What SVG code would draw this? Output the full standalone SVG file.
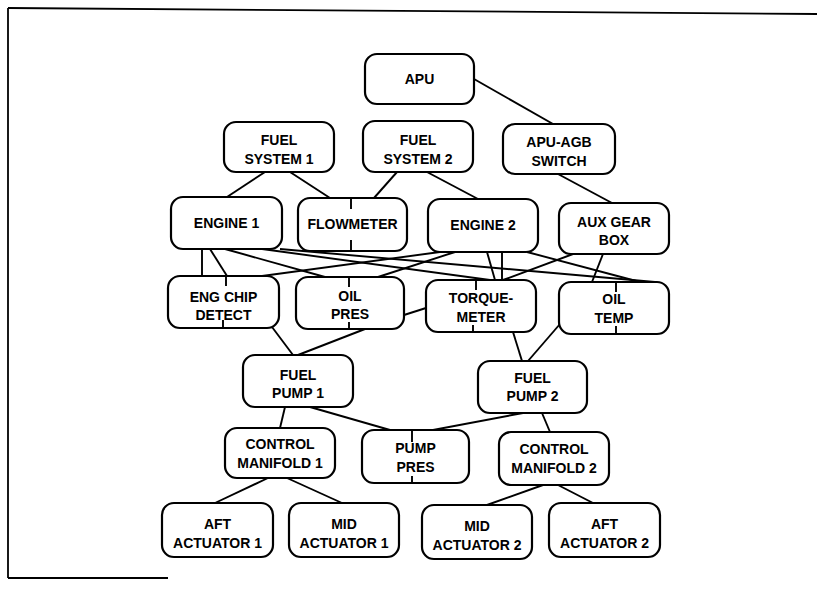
<svg xmlns="http://www.w3.org/2000/svg" width="817" height="591" viewBox="0 0 817 591">
<style>
.box{fill:#fff;stroke:#000;stroke-width:2.2}
.lbl{font-family:"Liberation Sans",Arial,sans-serif;font-weight:bold;font-size:14px;text-anchor:middle;fill:#000}
.cn line,.tick line{stroke:#000;stroke-width:1.9}
.frame{stroke:#000;stroke-width:1.8;fill:none}
</style>
<rect width="817" height="591" fill="#fff"/>
<g id="frame">
<line class="frame" x1="8" y1="8" x2="817" y2="14"/>
<line class="frame" x1="8" y1="8" x2="8" y2="578"/>
<line class="frame" x1="8" y1="578" x2="168" y2="578"/>
</g>
<g id="connectors" class="cn">
<line x1="474" y1="79" x2="553" y2="124"/>
<line x1="265" y1="172" x2="227" y2="197"/>
<line x1="290" y1="172" x2="330" y2="198"/>
<line x1="397" y1="172" x2="374" y2="198"/>
<line x1="427" y1="172" x2="478" y2="199"/>
<line x1="558" y1="174" x2="612" y2="203"/>
<line x1="202" y1="249" x2="202" y2="276"/>
<line x1="210" y1="249" x2="227" y2="276"/>
<line x1="225" y1="249" x2="325" y2="277"/>
<line x1="262" y1="249" x2="490" y2="280"/>
<line x1="280" y1="249" x2="655" y2="282"/>
<line x1="440" y1="252" x2="262" y2="276"/>
<line x1="455" y1="252" x2="378" y2="277"/>
<line x1="487" y1="252" x2="495" y2="280"/>
<line x1="502" y1="252" x2="502" y2="280"/>
<line x1="527" y1="252" x2="640" y2="282"/>
<line x1="573" y1="254" x2="503" y2="280"/>
<line x1="603" y1="254" x2="592" y2="282"/>
<line x1="272" y1="327" x2="293" y2="355"/>
<line x1="365" y1="329" x2="298" y2="355"/>
<line x1="404" y1="315" x2="426" y2="308"/>
<line x1="513" y1="332" x2="522" y2="361"/>
<line x1="560" y1="324" x2="528" y2="361"/>
<line x1="285" y1="407" x2="280" y2="428"/>
<line x1="310" y1="407" x2="390" y2="430"/>
<line x1="523" y1="413" x2="433" y2="430"/>
<line x1="542" y1="413" x2="550" y2="432"/>
<line x1="268" y1="478" x2="215" y2="503"/>
<line x1="287" y1="478" x2="342" y2="503"/>
<line x1="543" y1="485" x2="487" y2="505"/>
<line x1="558" y1="485" x2="593" y2="503"/>
</g>
<g id="apu"><rect class="box" x="365" y="54" width="109" height="50" rx="12"/><text class="lbl" x="419.5" y="84">APU</text></g>
<g id="fuel-system-1"><rect class="box" x="224" y="122" width="110" height="50" rx="12"/><text class="lbl" x="279" y="145">FUEL</text><text class="lbl" x="279" y="164">SYSTEM 1</text></g>
<g id="fuel-system-2"><rect class="box" x="363" y="121" width="110" height="51" rx="12"/><text class="lbl" x="418" y="145">FUEL</text><text class="lbl" x="418" y="164">SYSTEM 2</text></g>
<g id="apu-agb-switch"><rect class="box" x="503" y="124" width="112" height="50" rx="12"/><text class="lbl" x="559" y="147">APU-AGB</text><text class="lbl" x="559" y="166">SWITCH</text></g>
<g id="engine-1"><rect class="box" x="171" y="197" width="111" height="52" rx="12"/><text class="lbl" x="226.5" y="228">ENGINE 1</text></g>
<g id="flowmeter"><rect class="box" x="298" y="198" width="109" height="53" rx="12"/><text class="lbl" x="352.5" y="229">FLOWMETER</text></g>
<g id="engine-2"><rect class="box" x="428" y="199" width="110" height="53" rx="12"/><text class="lbl" x="483" y="230">ENGINE 2</text></g>
<g id="aux-gear-box"><rect class="box" x="559" y="203" width="110" height="51" rx="12"/><text class="lbl" x="614" y="227">AUX GEAR</text><text class="lbl" x="614" y="245">BOX</text></g>
<g id="eng-chip-detect"><rect class="box" x="168" y="276" width="111" height="52" rx="12"/><text class="lbl" x="223.5" y="302">ENG CHIP</text><text class="lbl" x="223.5" y="320">DETECT</text></g>
<g id="oil-pres"><rect class="box" x="296" y="277" width="108" height="52" rx="12"/><text class="lbl" x="350" y="301">OIL</text><text class="lbl" x="350" y="319">PRES</text></g>
<g id="torque-meter"><rect class="box" x="426" y="280" width="110" height="52" rx="12"/><text class="lbl" x="481" y="303">TORQUE-</text><text class="lbl" x="481" y="322">METER</text></g>
<g id="oil-temp"><rect class="box" x="559" y="282" width="110" height="52" rx="12"/><text class="lbl" x="614" y="304">OIL</text><text class="lbl" x="614" y="323">TEMP</text></g>
<g id="fuel-pump-1"><rect class="box" x="243" y="355" width="110" height="52" rx="12"/><text class="lbl" x="298" y="380">FUEL</text><text class="lbl" x="298" y="398">PUMP 1</text></g>
<g id="fuel-pump-2"><rect class="box" x="478" y="361" width="109" height="52" rx="12"/><text class="lbl" x="532.5" y="383">FUEL</text><text class="lbl" x="532.5" y="401">PUMP 2</text></g>
<g id="control-manifold-1"><rect class="box" x="225" y="428" width="110" height="50" rx="12"/><text class="lbl" x="280" y="449">CONTROL</text><text class="lbl" x="280" y="468">MANIFOLD 1</text></g>
<g id="pump-pres"><rect class="box" x="362" y="430" width="107" height="53" rx="12"/><text class="lbl" x="415.5" y="453">PUMP</text><text class="lbl" x="415.5" y="472">PRES</text></g>
<g id="control-manifold-2"><rect class="box" x="499" y="432" width="110" height="53" rx="12"/><text class="lbl" x="554" y="454">CONTROL</text><text class="lbl" x="554" y="473">MANIFOLD 2</text></g>
<g id="aft-actuator-1"><rect class="box" x="162" y="503" width="111" height="54" rx="12"/><text class="lbl" x="217.5" y="529">AFT</text><text class="lbl" x="217.5" y="548">ACTUATOR 1</text></g>
<g id="mid-actuator-1"><rect class="box" x="289" y="503" width="110" height="54" rx="12"/><text class="lbl" x="344" y="529">MID</text><text class="lbl" x="344" y="548">ACTUATOR 1</text></g>
<g id="mid-actuator-2"><rect class="box" x="422" y="505" width="110" height="54" rx="12"/><text class="lbl" x="477" y="531">MID</text><text class="lbl" x="477" y="550">ACTUATOR 2</text></g>
<g id="aft-actuator-2"><rect class="box" x="549" y="503" width="111" height="54" rx="12"/><text class="lbl" x="604.5" y="529">AFT</text><text class="lbl" x="604.5" y="548">ACTUATOR 2</text></g>
<g id="ticks" class="tick">
<line x1="351" y1="198" x2="351" y2="209"/>
<line x1="351" y1="240" x2="351" y2="251"/>
<line x1="226" y1="276" x2="226" y2="286"/>
<line x1="223" y1="320" x2="223" y2="328"/>
<line x1="349" y1="277" x2="349" y2="287"/>
<line x1="349" y1="322" x2="349" y2="329"/>
<line x1="476" y1="280" x2="476" y2="290"/>
<line x1="473" y1="325" x2="473" y2="332"/>
<line x1="616" y1="282" x2="616" y2="292"/>
<line x1="616" y1="326" x2="616" y2="334"/>
<line x1="412" y1="430" x2="412" y2="442"/>
<line x1="412" y1="476" x2="412" y2="483"/>
</g>
</svg>
